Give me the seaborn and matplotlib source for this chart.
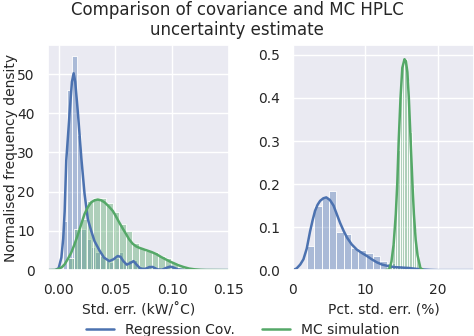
import matplotlib
matplotlib.use("Agg")
import matplotlib.pyplot as plt
import seaborn as sns
from matplotlib.lines import Line2D

sns.set_theme(style="darkgrid", palette="deep")
plt.rcParams.update({
    "font.family": ["DejaVu Sans"],
    "font.size": 10,
    "axes.labelsize": 10,
    "xtick.labelsize": 10,
    "ytick.labelsize": 10,
    "legend.fontsize": 10,
})

BLUE = "#4C72B0"
GREEN = "#55A868"

# ---- Absolute standard error (kW/˚C) ----
reg_abs_edges = [0.0036 + 0.0041 * i for i in range(26)]
reg_abs_heights = [12.5, 46, 54.5, 34.4, 10.5, 8, 6, 4.5, 3.5, 2.5, 2, 3, 4.5,
                   2, 2.5, 2.5, 1, 0.5, 1, 1, 0.3, 0.4, 1, 1, 0.3]
mc_abs_edges = [0.0079 + 0.0057 * i for i in range(19)]
mc_abs_heights = [3.2, 10.5, 13, 17.7, 18.5, 18.3, 17, 14.8, 11.8, 10, 7,
                  5.7, 4.9, 4.5, 3.7, 3.1, 1.8, 0.9]

reg_abs_kde_x = [-0.0095, -0.003, 0.0, 0.0024, 0.004, 0.0053, 0.0067, 0.0083,
                 0.0096, 0.0117, 0.0132, 0.0146, 0.017, 0.020, 0.0228, 0.0257,
                 0.0287, 0.0316, 0.036, 0.040, 0.0447, 0.0485, 0.052, 0.0545,
                 0.057, 0.060, 0.063, 0.066, 0.069, 0.072, 0.076, 0.080, 0.083,
                 0.087, 0.091, 0.095, 0.098, 0.101, 0.105, 0.11, 0.15]
reg_abs_kde_y = [0, 0, 0.5, 3.2, 8, 15, 28, 34.5, 40, 48, 50.2, 48, 40, 28.5,
                 19.5, 13, 10, 7.4, 5, 3.2, 2.3, 2.8, 3.6, 3.4, 2.3, 1.4, 1.8,
                 2.3, 1.3, 0.4, 0.3, 0.8, 0.8, 0.2, 0.1, 0.6, 0.9, 0.7, 0.2, 0,
                 0]
mc_abs_kde_x = [-0.0095, -0.003, 0.0, 0.003, 0.0053, 0.008, 0.011, 0.014,
                0.017, 0.020, 0.0228, 0.0258, 0.0287, 0.0316, 0.0345, 0.0375,
                0.0404, 0.044, 0.0477, 0.0505, 0.0535, 0.0565, 0.0594, 0.062,
                0.065, 0.068, 0.071, 0.074, 0.078, 0.082, 0.086, 0.090, 0.094,
                0.098, 0.102, 0.106, 0.110, 0.115, 0.120, 0.125, 0.13, 0.15]
mc_abs_kde_y = [0, 0.05, 0.3, 0.8, 1.5, 2.8, 4.4, 6.6, 9.1, 11.8, 14.3, 16.1,
                17.3, 17.8, 18.0, 17.8, 17.3, 16.3, 15.1, 13.7, 12.1, 10.6,
                9.2, 7.9, 6.8, 6.1, 5.7, 5.4, 5.0, 4.6, 4.1, 3.4, 2.8, 2.2,
                1.7, 1.2, 0.8, 0.4, 0.2, 0.08, 0.03, 0]

# ---- Percentage standard error (%) ----
reg_pct_edges = [1.94 + 1.01 * i for i in range(15)]
reg_pct_heights = [0.056, 0.15, 0.167, 0.185, 0.088, 0.084, 0.051, 0.046,
                   0.040, 0.032, 0.022, 0.016, 0.011, 0.007]
mc_pct_edges = [13.4 + 0.33 * i for i in range(14)]
mc_pct_heights = [0.02, 0.06, 0.14, 0.28, 0.41, 0.48, 0.49, 0.44, 0.32, 0.19,
                  0.09, 0.035, 0.01]

reg_pct_kde_x = [0, 0.5, 1.0, 1.44, 1.9, 2.36, 2.7, 3.05, 3.4, 3.75, 4.2, 4.6,
                 5.1, 5.6, 6.05, 6.5, 7.0, 7.45, 8.1, 8.8, 9.5, 10.2, 10.9,
                 11.6, 12.3, 13, 14, 15, 16, 17, 18, 19, 20, 25]
reg_pct_kde_y = [0, 0.004, 0.013, 0.025, 0.05, 0.09, 0.115, 0.138, 0.152,
                 0.161, 0.167, 0.169, 0.163, 0.15, 0.13, 0.11, 0.091, 0.076,
                 0.06, 0.048, 0.04, 0.033, 0.025, 0.018, 0.013, 0.01, 0.007,
                 0.006, 0.005, 0.003, 0.0015, 0.0005, 0, 0]
mc_pct_kde_x = [12.8, 13.3, 13.6, 13.9, 14.2, 14.4, 14.6, 14.85, 15.1, 15.4,
                15.6, 15.8, 16.0, 16.25, 16.5, 16.7, 16.95, 17.2, 17.6, 18.0]
mc_pct_kde_y = [0, 0.002, 0.02, 0.06, 0.13, 0.2, 0.3, 0.4, 0.47, 0.49, 0.485,
                0.46, 0.4, 0.3, 0.2, 0.13, 0.07, 0.035, 0.005, 0]


def centers(edges):
    return [(a + b) / 2 for a, b in zip(edges[:-1], edges[1:])]


def dist(ax, edges, heights, kx, ky, color):
    sns.histplot(x=centers(edges), weights=heights, bins=edges, ax=ax,
                 color=color, alpha=0.4, edgecolor="white", linewidth=0.6,
                 stat="count")
    sns.lineplot(x=kx, y=ky, ax=ax, color=color, lw=1.8, legend=False,
                 sort=False)


fig, (ax1, ax2) = plt.subplots(1, 2, figsize=(4.74, 3.36), dpi=100)
fig.subplots_adjust(left=0.101, right=1.0, bottom=0.196, top=0.866,
                    wspace=0.354)

dist(ax1, reg_abs_edges, reg_abs_heights, reg_abs_kde_x, reg_abs_kde_y, BLUE)
dist(ax1, mc_abs_edges, mc_abs_heights, mc_abs_kde_x, mc_abs_kde_y, GREEN)
dist(ax2, reg_pct_edges, reg_pct_heights, reg_pct_kde_x, reg_pct_kde_y, BLUE)
dist(ax2, mc_pct_edges, mc_pct_heights, mc_pct_kde_x, mc_pct_kde_y, GREEN)

ax1.set_xlim(-0.0095, 0.15)
ax1.set_ylim(0, 57.4)
ax1.set_xticks([0.0, 0.05, 0.10, 0.15])
ax1.set_xticklabels(["0.00", "0.05", "0.10", "0.15"])
ax1.set_yticks([0, 10, 20, 30, 40, 50])
ax1.set_xlabel("Std. err. (kW/˚C)")
ax1.set_ylabel("Normalised frequency density", fontsize=10)
ax1.yaxis.set_label_coords(-0.165, 0.5)

ax2.set_xlim(0, 25)
ax2.set_ylim(0, 0.523)
ax2.set_xticks([0, 10, 20])
ax2.set_yticks([0.0, 0.1, 0.2, 0.3, 0.4, 0.5])
ax2.set_xlabel("Pct. std. err. (%)")
ax2.set_ylabel("")

fig.text(0.5, 0.997, "Comparison of covariance and MC HPLC\nuncertainty estimate",
         ha="center", va="top", fontsize=12, linespacing=1.15)

handles = [Line2D([], [], color=BLUE, lw=1.8),
           Line2D([], [], color=GREEN, lw=1.8)]
fig.legend(handles, ["Regression Cov.", "MC simulation"], loc="center",
           bbox_to_anchor=(0.512, 0.018), ncol=2, frameon=False)

fig.savefig("out.png", dpi=100)
